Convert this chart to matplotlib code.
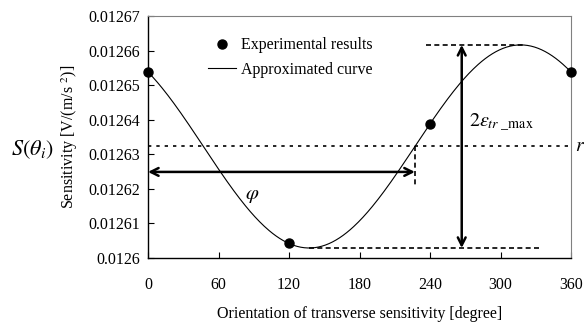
import numpy as np
import matplotlib
matplotlib.use("Agg")
import matplotlib.pyplot as plt

# Experimental data
angles = [0, 120, 240, 360]
sens = [0.0126538, 0.0126042, 0.0126388, 0.0126538]

x_ticks = [0, 60, 120, 180, 240, 300, 360]
y_ticks = [0.0126, 0.01261, 0.01262, 0.01263, 0.01264, 0.01265, 0.01266, 0.01267]
y_tick_labels = ["0.0126", "0.01261", "0.01262", "0.01263", "0.01264", "0.01265", "0.01266", "0.01267"]

# Fit sinusoid r + a cos + b sin through the distinct measurements
th = np.radians(np.array(angles[:3], dtype=float))
M = np.column_stack([np.ones_like(th), np.cos(th), np.sin(th)])
coef, *_ = np.linalg.lstsq(M, np.array(sens[:3]), rcond=None)
r, a, b = coef
theta = np.linspace(0, 360, 361)
curve = r + a * np.cos(np.radians(theta)) + b * np.sin(np.radians(theta))
amp = np.hypot(a, b)
th_max = np.degrees(np.arctan2(b, a)) % 360
th_min = (th_max - 180) % 360
th_cross = (th_max - 90) % 360

plt.rcParams['font.family'] = ['Liberation Serif', 'DejaVu Serif']
plt.rcParams['mathtext.fontset'] = 'stix'
FS = 11.5

fig = plt.figure(figsize=(5.88, 3.22), dpi=100)
ax = fig.add_axes([148/588, 1-258/322, (571-148)/588, (258-16)/322])

line_curve, = ax.plot(theta, curve, color='black', lw=0.8, label='Approximated curve')
line_pts, = ax.plot(angles, sens, 'o', color='black', ms=6.5, label='Experimental results',
                    clip_on=False, zorder=5)

ax.set_xlim(0, 360)
ax.set_ylim(0.0126, 0.01267)
ax.set_xticks(x_ticks)
ax.set_yticks(y_ticks)
ax.set_yticklabels(y_tick_labels)
ax.tick_params(direction='in', length=4, labelsize=FS, color='black', width=0.8)
ax.tick_params(axis='x', pad=14)
ax.tick_params(axis='y', pad=6)
for s in ['top', 'right']:
    ax.spines[s].set_color('#808080')
    ax.spines[s].set_linewidth(0.8)
for s in ['left', 'bottom']:
    ax.spines[s].set_linewidth(1.0)

ax.set_xlabel('Orientation of transverse sensitivity [degree]', fontsize=FS, labelpad=9)
ax.set_ylabel('Sensitivity [V/(m/s $^{2}$)]', fontsize=FS, labelpad=6)

# reference line r
ax.plot([0, 360], [r, r], color='black', ls=(0, (2, 3)), lw=1.2, clip_on=False)
ax.text(363, r, '$r$', fontsize=14, va='center', ha='left')

# phase arrow
y_arr = 0.0126249
ax.annotate('', xy=(0, y_arr), xytext=(th_cross, y_arr),
            arrowprops=dict(arrowstyle='<->', lw=1.8, color='black', mutation_scale=14,
                            shrinkA=0, shrinkB=0))
ax.plot([th_cross, th_cross], [r, 0.0126208], color='black', ls=(0, (3, 2)), lw=1.2)
ax.text(89, 0.0126180, r'$\varphi$', fontsize=15, ha='center', va='center')

# amplitude markers
ax.plot([237, 322], [r + amp, r + amp], color='black', ls=(0, (3, 2)), lw=1.2)
ax.plot([th_min, 334], [r - amp, r - amp], color='black', ls=(0, (3, 2)), lw=1.2)
ax.annotate('', xy=(267, r + amp), xytext=(267, r - amp),
            arrowprops=dict(arrowstyle='<->', lw=1.8, color='black', mutation_scale=14,
                            shrinkA=0, shrinkB=0))
ax.text(273, 0.012639, r'$2\varepsilon_{tr\ \_\mathrm{max}}$', fontsize=14.5, ha='left', va='center')

# S(theta_i)
fig.text(11/588, 1-150/322, r'$S(\theta_i)$', fontsize=16, ha='left', va='center')

ax.legend([line_pts, line_curve], ['Experimental results', 'Approximated curve'],
          loc='upper left', bbox_to_anchor=(0.142, 0.912), frameon=False, fontsize=FS,
          handlelength=1.75, handletextpad=0.3, labelspacing=0.55, borderpad=0,
          borderaxespad=0)

fig.savefig('out.png', dpi=100)
